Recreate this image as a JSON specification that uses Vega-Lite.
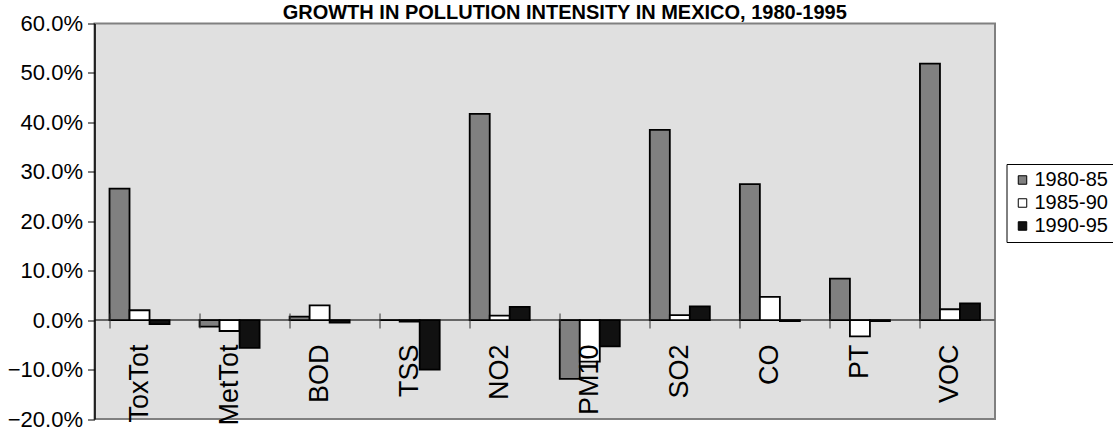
{
  "$schema": "https://vega.github.io/schema/vega-lite/v6.json",
  "autosize": "none",
  "width": 900.5,
  "height": 395.5,
  "padding": {"left": 94.5, "top": 23.5, "right": 118, "bottom": 11},
  "background": "white",
  "config": {
    "font": "Liberation Sans",
    "view": {"fill": "#e0e0e0", "stroke": "#808080", "strokeWidth": 2}
  },
  "title": {
    "text": "GROWTH IN POLLUTION INTENSITY IN MEXICO, 1980-1995",
    "anchor": "middle",
    "frame": "group",
    "dx": 20,
    "offset": -26,
    "baseline": "alphabetic",
    "fontSize": 20,
    "fontWeight": "bold",
    "color": "#000000",
    "font": "Liberation Sans"
  },
  "data": {
    "values": [
      {"category": "ToxTot", "period": "1980-85", "value": 0.266},
      {"category": "ToxTot", "period": "1985-90", "value": 0.020},
      {"category": "ToxTot", "period": "1990-95", "value": -0.008},
      {"category": "MetTot", "period": "1980-85", "value": -0.013},
      {"category": "MetTot", "period": "1985-90", "value": -0.022},
      {"category": "MetTot", "period": "1990-95", "value": -0.056},
      {"category": "BOD", "period": "1980-85", "value": 0.007},
      {"category": "BOD", "period": "1985-90", "value": 0.030},
      {"category": "BOD", "period": "1990-95", "value": -0.005},
      {"category": "TSS", "period": "1980-85", "value": 0.000},
      {"category": "TSS", "period": "1985-90", "value": -0.003},
      {"category": "TSS", "period": "1990-95", "value": -0.100},
      {"category": "NO2", "period": "1980-85", "value": 0.417},
      {"category": "NO2", "period": "1985-90", "value": 0.009},
      {"category": "NO2", "period": "1990-95", "value": 0.027},
      {"category": "PM10", "period": "1980-85", "value": -0.119},
      {"category": "PM10", "period": "1985-90", "value": -0.084},
      {"category": "PM10", "period": "1990-95", "value": -0.053},
      {"category": "SO2", "period": "1980-85", "value": 0.385},
      {"category": "SO2", "period": "1985-90", "value": 0.010},
      {"category": "SO2", "period": "1990-95", "value": 0.028},
      {"category": "CO", "period": "1980-85", "value": 0.275},
      {"category": "CO", "period": "1985-90", "value": 0.047},
      {"category": "CO", "period": "1990-95", "value": -0.002},
      {"category": "PT", "period": "1980-85", "value": 0.084},
      {"category": "PT", "period": "1985-90", "value": -0.033},
      {"category": "PT", "period": "1990-95", "value": -0.002},
      {"category": "VOC", "period": "1980-85", "value": 0.519},
      {"category": "VOC", "period": "1985-90", "value": 0.022},
      {"category": "VOC", "period": "1990-95", "value": 0.034}
    ]
  },
  "encoding": {
    "x": {
      "field": "category",
      "type": "nominal",
      "sort": null,
      "scale": {"paddingInner": 0.3333, "paddingOuter": 0.1667},
      "axis": {
        "title": null,
        "orient": "bottom",
        "offset": -106,
        "zindex": 1,
        "domain": false,
        "bandPosition": 0,
        "ticks": true,
        "tickSize": 15,
        "tickColor": "#333333",
        "tickWidth": 1,
        "labelAngle": -90,
        "labelPadding": 16,
        "labelFontSize": 27,
        "labelColor": "#000000",
        "labelFont": "Liberation Sans",
        "grid": false
      }
    }
  },
  "layer": [
    {
      "mark": {"type": "rule", "color": "#666666", "strokeWidth": 1.5},
      "encoding": {"y": {"datum": 0, "type": "quantitative"}, "x": null}
    },
    {
      "mark": {"type": "bar", "stroke": "#000000", "strokeWidth": 1.8},
      "encoding": {
        "xOffset": {
          "field": "period",
          "type": "nominal",
          "scale": {"paddingInner": 0, "paddingOuter": 0}
        },
        "y": {
          "field": "value",
          "type": "quantitative",
          "scale": {"domain": [-0.2, 0.6], "nice": false},
          "axis": {
            "title": null,
            "zindex": 1,
            "values": [-0.2, -0.1, 0, 0.1, 0.2, 0.3, 0.4, 0.5, 0.6],
            "format": ".1%",
            "grid": false,
            "domainColor": "#000000",
            "domainWidth": 1.5,
            "tickColor": "#000000",
            "tickSize": 7,
            "labelPadding": 5,
            "labelFontSize": 22,
            "labelColor": "#000000",
            "labelFont": "Liberation Sans"
          }
        },
        "fill": {
          "field": "period",
          "type": "nominal",
          "scale": {
            "domain": ["1980-85", "1985-90", "1990-95"],
            "range": ["#808080", "#ffffff", "#111111"]
          },
          "legend": {
            "title": null,
            "orient": "none",
            "legendX": 912,
            "legendY": 140.5,
            "direction": "vertical",
            "symbolType": "square",
            "symbolSize": 72,
            "symbolStrokeColor": "#000000",
            "symbolStrokeWidth": 1,
            "labelFontSize": 20,
            "labelFont": "Liberation Sans",
            "labelColor": "#000000",
            "labelOffset": 2,
            "rowPadding": 3,
            "padding": 6,
            "strokeColor": "#000000",
            "fillColor": "#ffffff"
          }
        }
      }
    }
  ]
}
